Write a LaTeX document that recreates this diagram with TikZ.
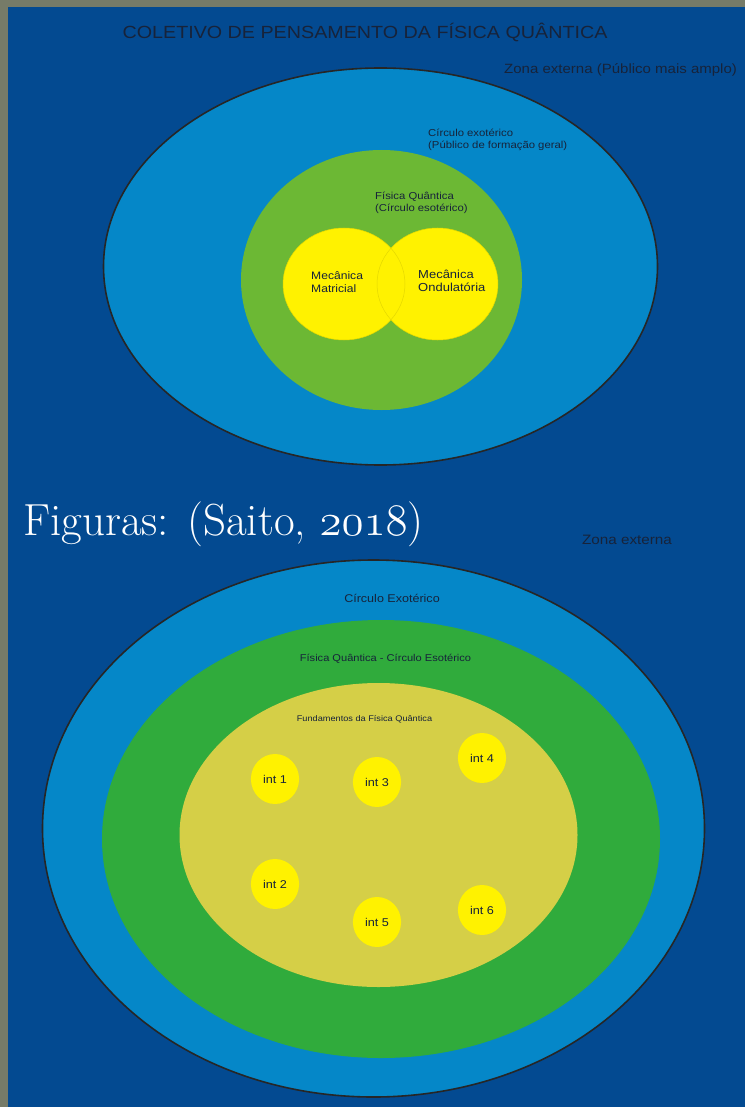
\RequirePackage{fix-cm}
\documentclass[tikz,border=0pt]{standalone}
\usepackage{fontspec}
\usetikzlibrary{shapes.geometric}
\newfontfamily\arial{Liberation Sans}
\definecolor{edgegray}{HTML}{767B68}
\definecolor{zoneblue}{HTML}{034A91}
\definecolor{exoblue}{HTML}{0587C8}
\definecolor{esogreen}{HTML}{6CB834}
\definecolor{esogreenb}{HTML}{30AB3C}
\definecolor{fundolive}{HTML}{D5CF47}
\definecolor{mecyellow}{HTML}{FFF200}
\definecolor{txt}{HTML}{17233A}
\newcommand{\fs}[2]{\fontsize{#1}{#2}\selectfont}
\newcommand{\oldnum}[1]{{\usefont{OML}{cmm}{m}{it}#1}}

\begin{document}
\begin{tikzpicture}[x=1pt, y=-1pt,
    lbl/.style = {font=\arial, text=txt, inner sep=0, xscale=1.12},
    outerring/.style = {fill=exoblue, draw=black!85, line width=1.6pt},
    intball/.style = {ellipse, fill=mecyellow, minimum width=43, minimum height=50,
                      inner sep=0, text=txt, font=\arial\fs{11.3}{13}, xscale=1.12}]
    \useasboundingbox (0,0) rectangle (745,1107);
    \fill[edgegray] (0,0) rectangle (745,1107);
    \fill[zoneblue] (8,7) rectangle (745,1107);

    % upper figure
    \node[lbl, font=\arial\fs{17.6}{20}] (title) at (365,32) {COLETIVO DE PENSAMENTO DA FÍSICA QUÂNTICA};
    \node[lbl, anchor=west, font=\arial\fs{13.4}{15}] (zonaA) at (504,70) {Zona externa (Público mais amplo)};
    \filldraw[outerring] (380.5,266.5) ellipse [x radius=277, y radius=198.5];
    \fill[esogreen] (381.5,280) ellipse [x radius=140.5, y radius=130];
    \fill[mecyellow] (344,284) ellipse [x radius=61, y radius=56];
    \fill[mecyellow] (437.5,284) ellipse [x radius=60.5, y radius=56];
    \draw[mecyellow!85!black!70!mecyellow, line width=.5pt] (344,284) ellipse [x radius=61, y radius=56];
    \draw[mecyellow!85!black!70!mecyellow, line width=.5pt] (437.5,284) ellipse [x radius=60.5, y radius=56];
    \node[lbl, anchor=west, align=left, font=\arial\fs{10.1}{12.5}] (exoA) at (428,140)
        {Círculo exotérico\\(Público de formação geral)};
    \node[lbl, anchor=west, align=left, font=\arial\fs{10.1}{12.5}] (esoA) at (375,203)
        {Física Quântica\\(Círculo esotérico)};
    \node[lbl, anchor=west, align=left, font=\arial\fs{10.8}{12.5}] (matricial) at (311,282)
        {Mecânica\\Matricial};
    \node[lbl, anchor=west, align=left, font=\arial\fs{11.6}{13.2}] (ondulatoria) at (418,281)
        {Mecânica\\Ondulatória};

    % caption
    \node[anchor=base west, inner sep=0, text=white, font=\fs{45}{50}] (fonte) at (23,535)
        {Figuras: (Saito, \oldnum{2018})};

    % lower figure
    \node[lbl, font=\arial\fs{13.6}{15}] (zonaB) at (627,540) {Zona externa};
    \filldraw[outerring] (373.5,828.5) ellipse [x radius=331, y radius=268.5];
    \fill[esogreenb] (381,839) ellipse [x radius=279, y radius=219];
    \fill[fundolive] (378.5,835) ellipse [x radius=199, y radius=152];
    \node[lbl, font=\arial\fs{11.2}{13}] (exoB) at (392,598) {Círculo Exotérico};
    \node[lbl, font=\arial\fs{9.9}{12}] (esoB) at (385.5,659) {Física Quântica - Círculo Esotérico};
    \node[lbl, font=\arial\fs{8.2}{10}] (fund) at (364.5,719) {Fundamentos da Física Quântica};
    \node[intball] (int1) at (275,779) {int 1};
    \node[intball] (int2) at (275,884) {int 2};
    \node[intball] (int3) at (377,782) {int 3};
    \node[intball] (int4) at (482,758) {int 4};
    \node[intball] (int5) at (377,922) {int 5};
    \node[intball] (int6) at (482,910) {int 6};
\end{tikzpicture}
\end{document}
